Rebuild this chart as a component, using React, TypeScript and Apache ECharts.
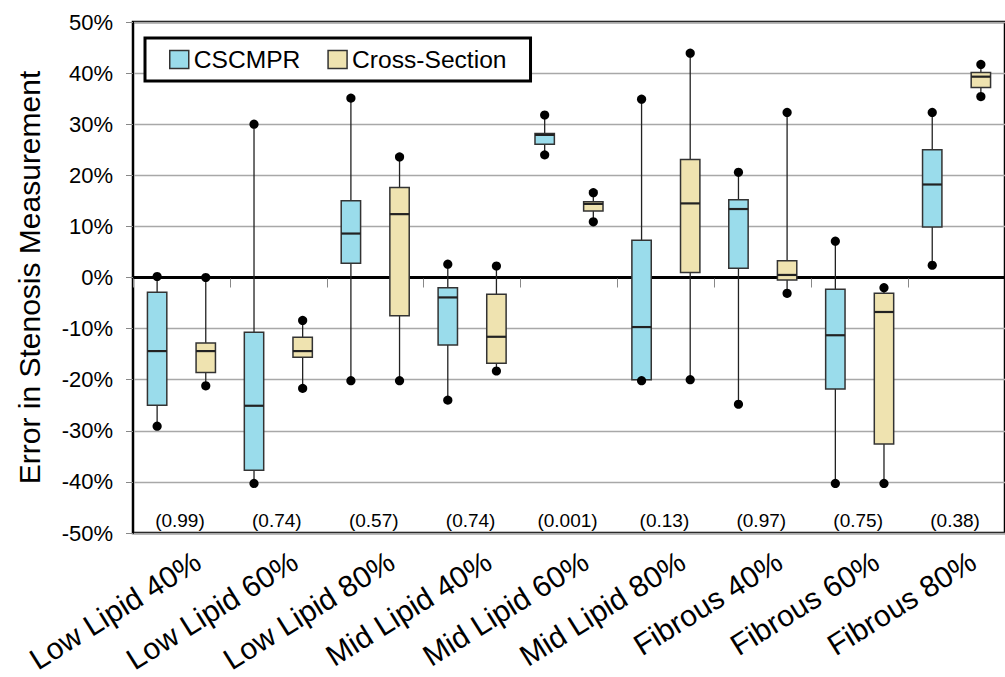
import React, { useEffect, useRef } from "react";
import * as echarts from "echarts";

const FONT = "'Liberation Sans', Arial, sans-serif";

const categories = [
  "Low Lipid 40%",
  "Low Lipid 60%",
  "Low Lipid 80%",
  "Mid Lipid 40%",
  "Mid Lipid 60%",
  "Mid Lipid 80%",
  "Fibrous 40%",
  "Fibrous 60%",
  "Fibrous 80%",
];

// [min, Q1, median, Q3, max] in percent
const cscmpr = [
  [-29.1, -25.0, -14.4, -2.9, 0.2],
  [-40.3, -37.7, -25.1, -10.7, 30.0],
  [-20.2, 2.8, 8.6, 15.0, 35.1],
  [-24.0, -13.2, -3.9, -2.0, 2.6],
  [24.0, 26.1, 27.9, 28.2, 31.8],
  [-20.2, -20.0, -9.7, 7.3, 34.9],
  [-24.8, 1.8, 13.4, 15.2, 20.6],
  [-40.3, -21.8, -11.3, -2.3, 7.1],
  [2.4, 9.9, 18.2, 25.0, 32.3],
];

const crossSection = [
  [-21.2, -18.6, -14.4, -12.8, 0.0],
  [-21.7, -15.6, -14.4, -11.7, -8.4],
  [-20.2, -7.5, 12.4, 17.6, 23.6],
  [-18.3, -16.8, -11.6, -3.3, 2.25],
  [10.9, 13.0, 14.4, 14.8, 16.6],
  [-20.0, 1.0, 14.5, 23.1, 43.9],
  [-3.1, -0.5, 0.5, 3.3, 32.3],
  [-40.3, -32.6, -6.75, -3.1, -2.0],
  [35.4, 37.2, 39.3, 40.1, 41.7],
];

const pValues = ["(0.99)", "(0.74)", "(0.57)", "(0.74)", "(0.001)", "(0.13)", "(0.97)", "(0.75)", "(0.38)"];
const pValueLevel = -47.6;
const zeroLevel = 0;

const yTicks = { min: -50, max: 50, interval: 10 };

const BLUE = "#9ADCEB";
const TAN = "#EFE3B0";

function makeBoxSeries(name: string, data: number[][], color: string, offset: number) {
  return {
    name,
    type: "custom",
    z: 5,
    itemStyle: { color, borderColor: "#333", borderWidth: 1.5 },
    encode: { x: 0, y: [1, 2, 3, 4, 5] },
    data: data.map((d, i) => [i, ...d]),
    renderItem: (params: any, api: any) => {
      const idx = api.value(0);
      const band = api.size([1, 0])[0];
      const cx = api.coord([idx, 0])[0] + offset * band;
      const bw = band * 0.2;
      const yMin = api.coord([idx, api.value(1)])[1];
      const yQ1 = api.coord([idx, api.value(2)])[1];
      const yMed = api.coord([idx, api.value(3)])[1];
      const yQ3 = api.coord([idx, api.value(4)])[1];
      const yMax = api.coord([idx, api.value(5)])[1];
      const lineStyle = { stroke: "#222", lineWidth: 1.3 };
      return {
        type: "group",
        children: [
          { type: "line", shape: { x1: cx, y1: yMax, x2: cx, y2: yMin }, style: lineStyle },
          {
            type: "rect",
            shape: { x: cx - bw / 2, y: yQ3, width: bw, height: yQ1 - yQ3 },
            style: { fill: color, stroke: "#333", lineWidth: 1.5 },
          },
          {
            type: "line",
            shape: { x1: cx - bw / 2, y1: yMed, x2: cx + bw / 2, y2: yMed },
            style: { stroke: "#222", lineWidth: 2.2 },
          },
          { type: "circle", shape: { cx, cy: yMin, r: 4.6 }, style: { fill: "#000" } },
          { type: "circle", shape: { cx, cy: yMax, r: 4.6 }, style: { fill: "#000" } },
        ],
      };
    },
  };
}

export default function App() {
  const ref = useRef<HTMLDivElement>(null);

  useEffect(() => {
    if (!ref.current) return;
    const chart = echarts.init(ref.current, null, { renderer: "svg" });
    const option: any = {
      animation: false,
      backgroundColor: "#fff",
      grid: {
        left: 133,
        top: 22,
        width: 877,
        height: 511,
        show: true,
        borderColor: "#000",
        borderWidth: 2.5,
        backgroundColor: "transparent",
      },
      legend: {
        left: 145,
        top: 38,
        padding: [9, 24, 9, 24],
        borderColor: "#000",
        borderWidth: 3,
        backgroundColor: "#fff",
        itemGap: 27,
        itemWidth: 19,
        itemHeight: 18,
        textStyle: { fontSize: 24.6, color: "#000", fontFamily: FONT },
        data: [
          { name: "CSCMPR", icon: "rect", itemStyle: { color: BLUE, borderColor: "#333", borderWidth: 1.5 } },
          { name: "Cross-Section", icon: "rect", itemStyle: { color: TAN, borderColor: "#333", borderWidth: 1.5 } },
        ],
      },
      xAxis: {
        type: "category",
        data: categories,
        boundaryGap: true,
        axisLine: { show: true, lineStyle: { color: "#000", width: 3 } },
        axisTick: { show: true, length: 10, lineStyle: { color: "#888", width: 1 } },
        axisLabel: {
          interval: 0,
          rotate: 32,
          fontSize: 30,
          fontFamily: FONT,
          color: "#000",
          margin: 18,
          align: "right",
          verticalAlign: "top",
          padding: [0, -10, 0, 0],
        },
        splitLine: { show: false },
      },
      yAxis: {
        type: "value",
        min: yTicks.min,
        max: yTicks.max,
        interval: yTicks.interval,
        name: "Error in Stenosis Measurement",
        nameLocation: "middle",
        nameGap: 89,
        nameTextStyle: { fontSize: 30, fontFamily: FONT, color: "#000" },
        axisLine: { show: true, lineStyle: { color: "#000", width: 2 } },
        axisTick: { show: true, length: 7, lineStyle: { color: "#888", width: 1 } },
        axisLabel: {
          formatter: "{value}%",
          fontSize: 22,
          fontFamily: FONT,
          color: "#000",
          margin: 20,
        },
        splitLine: { show: true, lineStyle: { color: "#A8A8A8", width: 1.3 } },
      },
      series: [
        {
          name: "zero",
          type: "custom",
          z: 1,
          encode: { x: 0, y: 1 },
          data: [[0, zeroLevel]],
          renderItem: (params: any, api: any) => {
            const cs = params.coordSys;
            const y = api.coord([0, api.value(1)])[1];
            return {
              type: "line",
              shape: { x1: cs.x, y1: y, x2: cs.x + cs.width, y2: y },
              style: { stroke: "#000", lineWidth: 2.2 },
            };
          },
        },
        {
          name: "pvalues",
          type: "custom",
          z: 2,
          encode: { x: 0, y: 1 },
          data: pValues.map((_, i) => [i, pValueLevel]),
          renderItem: (params: any, api: any) => {
            const pt = api.coord([api.value(0), api.value(1)]);
            return {
              type: "text",
              x: pt[0] - 1.5,
              y: pt[1],
              style: {
                text: pValues[params.dataIndex],
                fill: "#000",
                fontSize: 19,
                fontFamily: FONT,
                align: "center",
                verticalAlign: "middle",
              },
            };
          },
        },
        makeBoxSeries("CSCMPR", cscmpr, BLUE, -0.251),
        makeBoxSeries("Cross-Section", crossSection, TAN, 0.251),
      ],
    };
    chart.setOption(option);
    return () => chart.dispose();
  }, []);

  return (
    <div
      ref={ref}
      style={{ position: "fixed", left: 0, top: 0, width: 1005, height: 677, background: "#fff" }}
    />
  );
}
